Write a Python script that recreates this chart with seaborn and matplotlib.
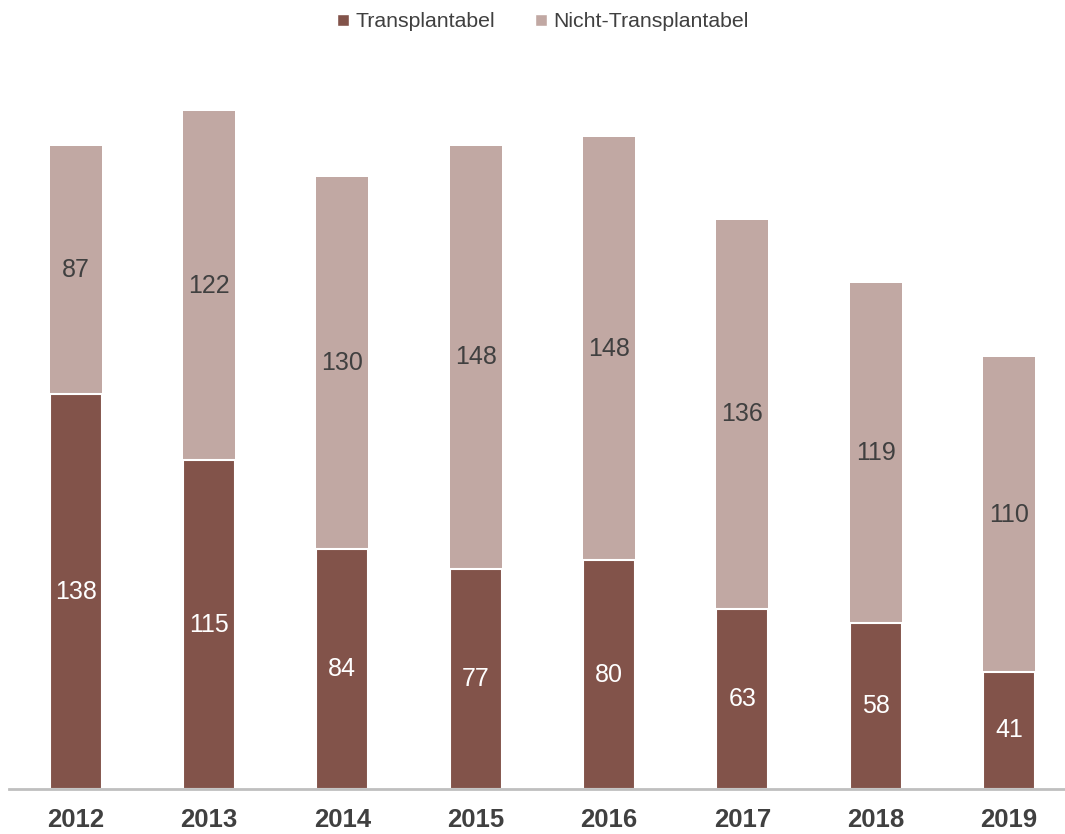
import pandas as pd
import numpy as np
import matplotlib.pyplot as plt
import seaborn as sns
from matplotlib.patches import Patch

years = ["2012", "2013", "2014", "2015", "2016", "2017", "2018", "2019"]
transplantabel = [138, 115, 84, 77, 80, 63, 58, 41]
nicht_transplantabel = [87, 122, 130, 148, 148, 136, 119, 110]

dark = "#82534A"
light = "#C1A8A3"

sns.set_style("white")
plt.rcParams['font.family'] = ['Liberation Sans', 'DejaVu Sans']

df = pd.DataFrame({"year": years, "trans": transplantabel, "nicht": nicht_transplantabel})
df["total"] = df["trans"] + df["nicht"]

fig = plt.figure(figsize=(10.65, 8.34), dpi=100)
ax = fig.add_axes([9 / 1065, 45 / 834, 1060 / 1065, 729 / 834])

sns.barplot(data=df, x="year", y="total", color=light, width=0.39,
            saturation=1, ax=ax, edgecolor="none")
sns.barplot(data=df, x="year", y="trans", color=dark, width=0.39,
            saturation=1, ax=ax, edgecolor="white", linewidth=1.5)

for i, row in df.iterrows():
    ax.text(i, row["trans"] / 2, str(row["trans"]), ha="center", va="center",
            color="white", fontsize=18)
    ax.text(i, row["trans"] + row["nicht"] / 2, str(row["nicht"]), ha="center",
            va="center", color="#404040", fontsize=18)

ax.set_xlim(-0.5, 7.45)
ax.set_ylim(0, 255)
ax.set_xlabel("")
ax.set_ylabel("")
ax.set_yticks([])
for s in ["left", "right", "top"]:
    ax.spines[s].set_visible(False)
ax.spines["bottom"].set_color("#BFBFBF")
ax.spines["bottom"].set_linewidth(2)
ax.tick_params(axis="x", length=0, pad=14, labelsize=18.5, labelcolor="#404040")
for lbl in ax.get_xticklabels():
    lbl.set_fontweight("bold")

handles = [Patch(facecolor=dark, label="Transplantabel"),
           Patch(facecolor=light, label="Nicht-Transplantabel")]
fig.legend(handles=handles, loc="upper center", bbox_to_anchor=(0.51, 1.008),
           ncol=2, frameon=False, fontsize=15.3, handlelength=0.55, handleheight=0.45,
           handletextpad=0.3, columnspacing=1.9, labelcolor="#404040")

plt.savefig("out.png", dpi=100)
